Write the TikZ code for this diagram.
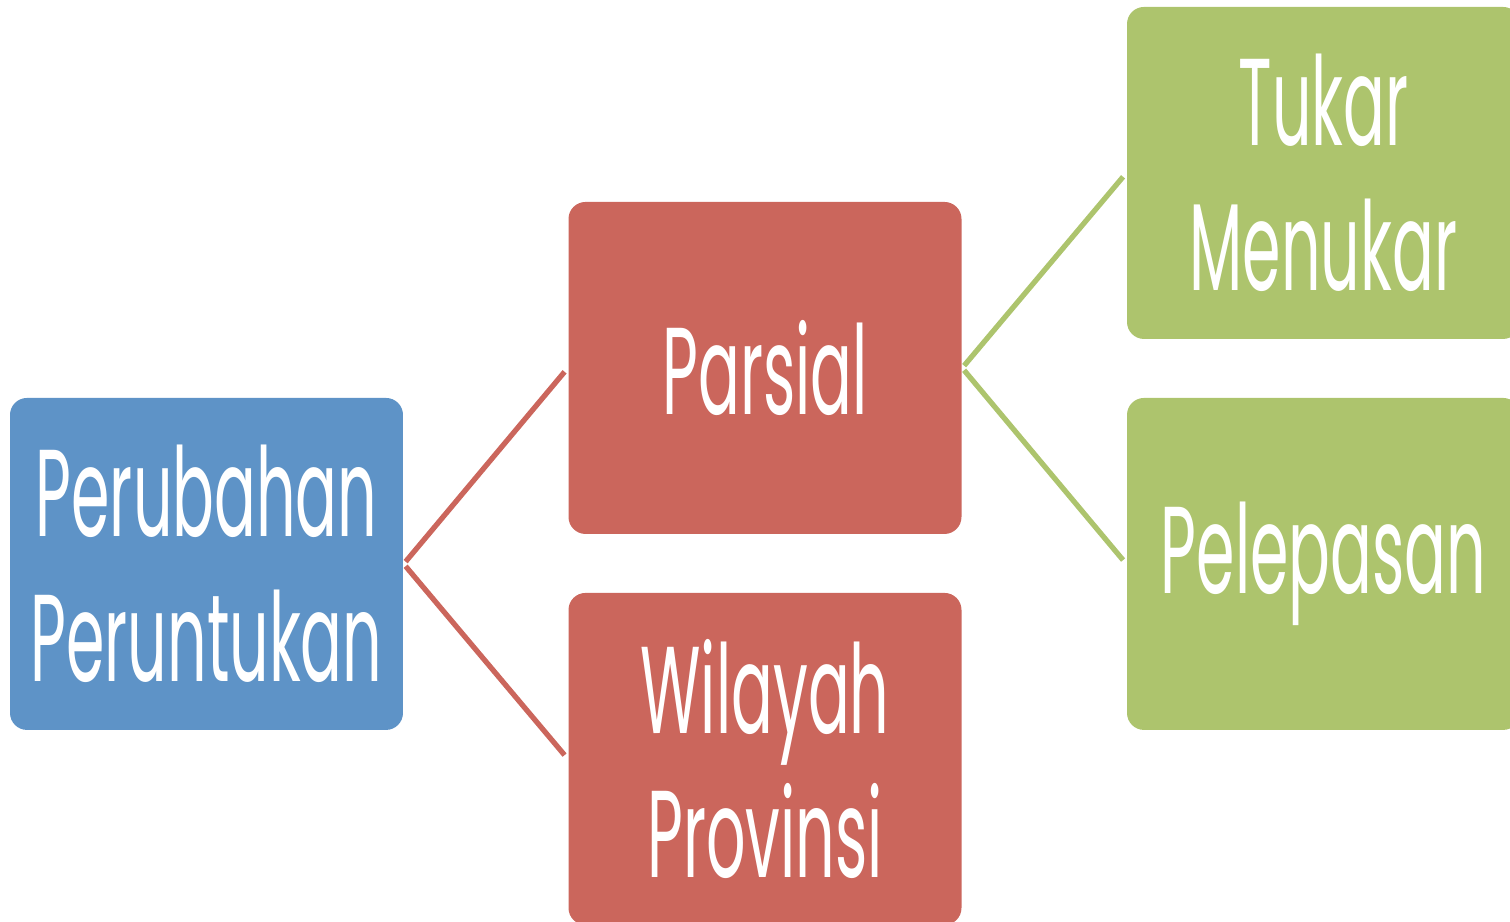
\documentclass[tikz,border=0pt]{standalone}
\usepackage{fontspec}
\setmainfont{Poppins}
\definecolor{boxblue}{HTML}{5E93C7}
\definecolor{boxred}{HTML}{CB665C}
\definecolor{boxgreen}{HTML}{ADC46D}
\begin{document}
\begin{tikzpicture}[x=0.1mm,y=0.05mm,yscale=2,
    box/.style={rectangle,rounded corners=0.17cm,minimum width=3.93cm,minimum height=1.66cm,
      inner sep=0pt,align=center,text=white,font=\fontsize{17.6}{20.6}\selectfont,transform shape},
    link/.style={line width=1.5pt,shorten <=0.03cm,shorten >=0.05cm}]
				\useasboundingbox (0,0) rectangle (1510,922);
				\node[box,fill=boxblue] (peruntukan) at (206.5,358) {Perubahan\\Peruntukan};
				\node[box,fill=boxred] (parsial) at (765,554) {Parsial};
				\node[box,fill=boxred] (provinsi) at (765,163) {Wilayah\\Provinsi};
				\node[box,fill=boxgreen] (tukar) at (1323.5,749) {Tukar\\Menukar};
				\node[box,fill=boxgreen] (pelepasan) at (1323.5,358) {Pelepasan};
				\draw[link,boxred] (peruntukan.east) -- (parsial.west);
				\draw[link,boxred] (peruntukan.east) -- (provinsi.west);
				\draw[link,boxgreen] (parsial.east) -- (tukar.west);
				\draw[link,boxgreen] (parsial.east) -- (pelepasan.west);
\end{tikzpicture}
\end{document}
